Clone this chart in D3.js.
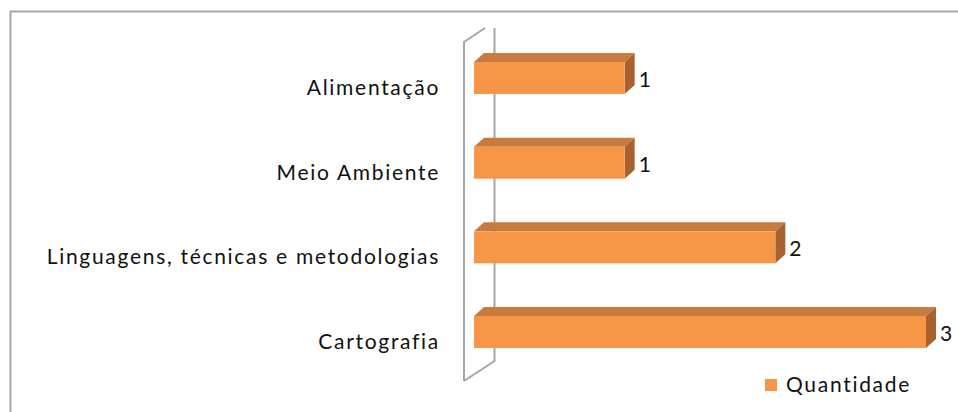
<!DOCTYPE html>
<html><head><meta charset="utf-8">
<script src="https://cdn.jsdelivr.net/npm/d3@7"></script>
<style>body{margin:0;background:#fff}svg{display:block}</style>
</head><body>
<script>
const categories = ["Alimentação", "Meio Ambiente", "Linguagens, técnicas e metodologias", "Cartografia"];
const values = [1, 1, 2, 3];
const seriesName = "Quantidade";

const W = 958, H = 412;
const svg = d3.select("body").append("svg").attr("width", W).attr("height", H);

// chart area border
svg.append("rect").attr("x", 10.5).attr("y", 11.5).attr("width", 960).attr("height", 420)
  .attr("fill", "none").attr("stroke", "#A6A6A6").attr("stroke-width", 2);

const x = d3.scaleLinear().domain([0, 3]).range([474, 926]);
const y = d3.scalePoint().domain(categories).range([78, 332]);
const h = 32, dx = 10, dy = 9;

// side wall (3D)
svg.append("path")
  .attr("d", "M464,381 L464,42 L485,28 M494.5,28 L494.5,361 L464,381")
  .attr("fill", "none").attr("stroke", "#A6A6A6").attr("stroke-width", 2);

const g = svg.append("g");
const bars = g.selectAll("g.bar").data(categories.map((c, i) => ({c, v: values[i]}))).join("g");

bars.append("path").attr("fill", "#C97B3E").attr("d", d => {
  const x0 = x(0), x1 = x(d.v), yt = y(d.c) - h / 2;
  return `M${x0},${yt} L${x0 + dx},${yt - dy} L${x1 + dx},${yt - dy} L${x1},${yt} Z`;
});
bars.append("path").attr("fill", "#A86230").attr("d", d => {
  const x1 = x(d.v), yt = y(d.c) - h / 2;
  return `M${x1},${yt} L${x1 + dx},${yt - dy} L${x1 + dx},${yt + h - dy} L${x1},${yt + h} Z`;
});
bars.append("rect").attr("fill", "#F79646")
  .attr("x", x(0)).attr("y", d => y(d.c) - h / 2)
  .attr("width", d => x(d.v) - x(0)).attr("height", h);

bars.append("text").text(d => d.v)
  .attr("x", d => x(d.v) + dx + 4).attr("y", d => y(d.c) + 9)
  .attr("font-family", "Lato").attr("font-size", 21).attr("fill", "#111");

// category labels
svg.append("g").selectAll("text").data(categories).join("text")
  .text(d => d).attr("x", 440).attr("y", d => y(d) + 17)
  .attr("text-anchor", "end").attr("font-family", "Lato").attr("font-size", 21)
  .attr("letter-spacing", 1.7).attr("fill", "#111");

// legend
svg.append("rect").attr("x", 765).attr("y", 379).attr("width", 12).attr("height", 12).attr("fill", "#F79646");
svg.append("text").text(seriesName).attr("x", 786).attr("y", 392)
  .attr("font-family", "Lato").attr("font-size", 21).attr("letter-spacing", 1.7).attr("fill", "#111");
</script>
</body></html>
